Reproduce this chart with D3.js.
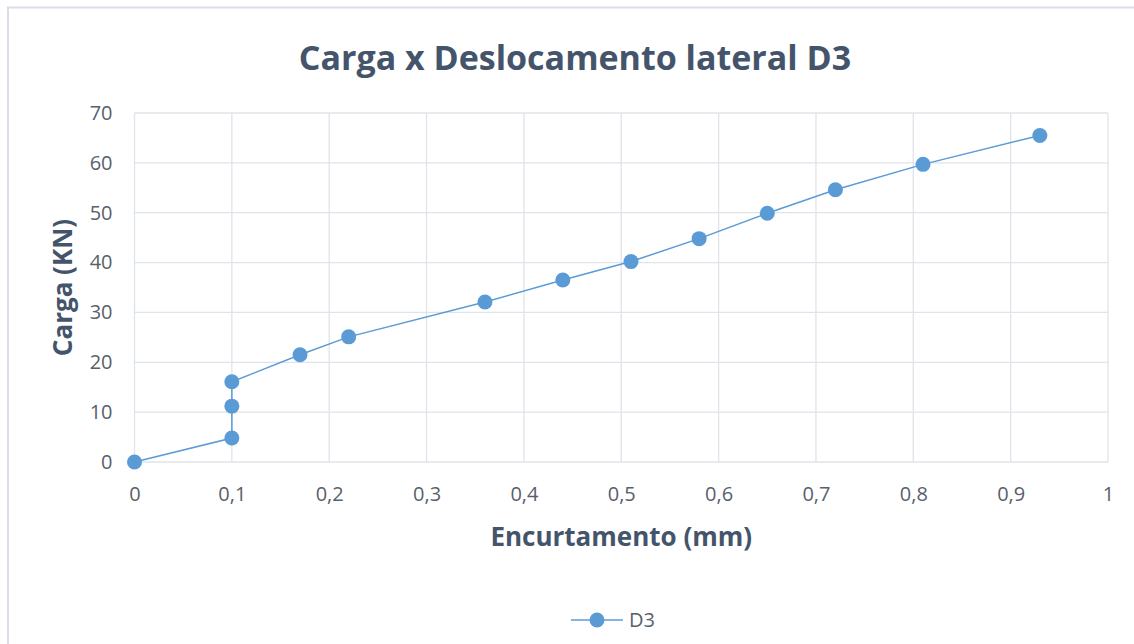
<!DOCTYPE html>
<html>
<head>
<meta charset="utf-8">
<script src="https://cdn.jsdelivr.net/npm/d3@7"></script>
<style>
  body { margin: 0; background: #fff; }
  svg { display: block; font-family: "Open Sans", "Noto Sans", sans-serif; }
</style>
</head>
<body>
<div id="wrapper"></div>
<script>
// data
const encurtamento = [0, 0.1, 0.1, 0.1, 0.17, 0.22, 0.36, 0.44, 0.51, 0.58, 0.65, 0.72, 0.81, 0.93];
const carga = [0, 4.8, 11.2, 16.1, 21.5, 25.1, 32.1, 36.5, 40.2, 44.8, 49.9, 54.6, 59.7, 65.5];
const xTicks = [0, 0.1, 0.2, 0.3, 0.4, 0.5, 0.6, 0.7, 0.8, 0.9, 1];
const yTicks = [0, 10, 20, 30, 40, 50, 60, 70];
const seriesName = "D3";

const points = encurtamento.map((x, i) => ({x: x, y: carga[i]}));

var dimension = {
  width: 1134,
  height: 644,
  margin: { top: 113, right: 26, bottom: 182, left: 134.5 }
};
dimension.boundedWidth = dimension.width - dimension.margin.left - dimension.margin.right;
dimension.boundedHeight = dimension.height - dimension.margin.top - dimension.margin.bottom;

const blue = "#5b9bd5";
const gridColor = "#dfe3ea";
const textColor = "#595f6b";
const titleColor = "#44546a";

const svg = d3.select("#wrapper")
  .append("svg")
  .attr("width", dimension.width)
  .attr("height", dimension.height);

// chart frame
svg.append("rect")
  .attr("x", 8).attr("y", 7.5)
  .attr("width", 1140).attr("height", 700)
  .attr("fill", "none")
  .attr("stroke", "#d9dee8")
  .attr("stroke-width", 2);

const xScale = d3.scaleLinear().domain([0, 1]).range([0, dimension.boundedWidth]);
const yScale = d3.scaleLinear().domain([0, 70]).range([dimension.boundedHeight, 0]);

const bounds = svg.append("g")
  .attr("transform", `translate(${dimension.margin.left},${dimension.margin.top})`);

// gridlines
bounds.selectAll("line.hgrid")
  .data(yTicks)
  .enter().append("line")
  .attr("class", "hgrid")
  .attr("x1", 0).attr("x2", dimension.boundedWidth)
  .attr("y1", d => yScale(d)).attr("y2", d => yScale(d))
  .attr("stroke", gridColor).attr("stroke-width", 1.3);

bounds.selectAll("line.vgrid")
  .data(xTicks)
  .enter().append("line")
  .attr("class", "vgrid")
  .attr("y1", 0).attr("y2", dimension.boundedHeight)
  .attr("x1", d => xScale(d)).attr("x2", d => xScale(d))
  .attr("stroke", gridColor).attr("stroke-width", 1.3);

// axes (labels only)
const fmt = d => String(d).replace(".", ",");

const xAxis = bounds.append("g")
  .attr("transform", `translate(0,${dimension.boundedHeight})`)
  .call(d3.axisBottom(xScale).tickValues(xTicks).tickFormat(fmt).tickSize(0).tickPadding(25));
xAxis.select(".domain").remove();
xAxis.selectAll("text")
  .attr("fill", textColor)
  .style("font-size", "20px")
  .style("font-family", "\"Open Sans\", sans-serif");

const yAxis = bounds.append("g")
  .call(d3.axisLeft(yScale).tickValues(yTicks).tickSize(0).tickPadding(22));
yAxis.select(".domain").remove();
yAxis.selectAll("text")
  .attr("fill", textColor)
  .style("font-size", "20px")
  .style("font-family", "\"Open Sans\", sans-serif");

// series
const line = d3.line().x(d => xScale(d.x)).y(d => yScale(d.y));

bounds.append("path")
  .datum(points)
  .attr("d", line)
  .attr("fill", "none")
  .attr("stroke", blue)
  .attr("stroke-width", 1.5);

bounds.selectAll("circle.pt")
  .data(points)
  .enter().append("circle")
  .attr("class", "pt")
  .attr("cx", d => xScale(d.x))
  .attr("cy", d => yScale(d.y))
  .attr("r", 7.5)
  .attr("fill", blue);

// title and axis titles
svg.append("text")
  .attr("x", 575).attr("y", 70)
  .attr("text-anchor", "middle")
  .attr("fill", titleColor)
  .style("font-size", "34px")
  .style("font-weight", "bold")
  .text("Carga x Deslocamento lateral D3");

svg.append("text")
  .attr("x", dimension.margin.left + dimension.boundedWidth / 2)
  .attr("y", 546)
  .attr("text-anchor", "middle")
  .attr("fill", titleColor)
  .style("font-size", "26px")
  .style("font-weight", "bold")
  .text("Encurtamento (mm)");

svg.append("text")
  .attr("transform", `translate(72,${dimension.margin.top + dimension.boundedHeight / 2}) rotate(-90)`)
  .attr("text-anchor", "middle")
  .attr("fill", titleColor)
  .style("font-size", "26px")
  .style("font-weight", "bold")
  .text("Carga (KN)");

// legend
const legend = svg.append("g").attr("transform", "translate(571,620)");
legend.append("line")
  .attr("x1", 0).attr("x2", 52)
  .attr("stroke", blue).attr("stroke-width", 1.5);
legend.append("circle")
  .attr("cx", 26).attr("r", 7.5).attr("fill", blue);
legend.append("text")
  .attr("x", 58).attr("y", 7)
  .attr("fill", textColor)
  .style("font-size", "20px")
  .text(seriesName);
</script>
</body>
</html>
